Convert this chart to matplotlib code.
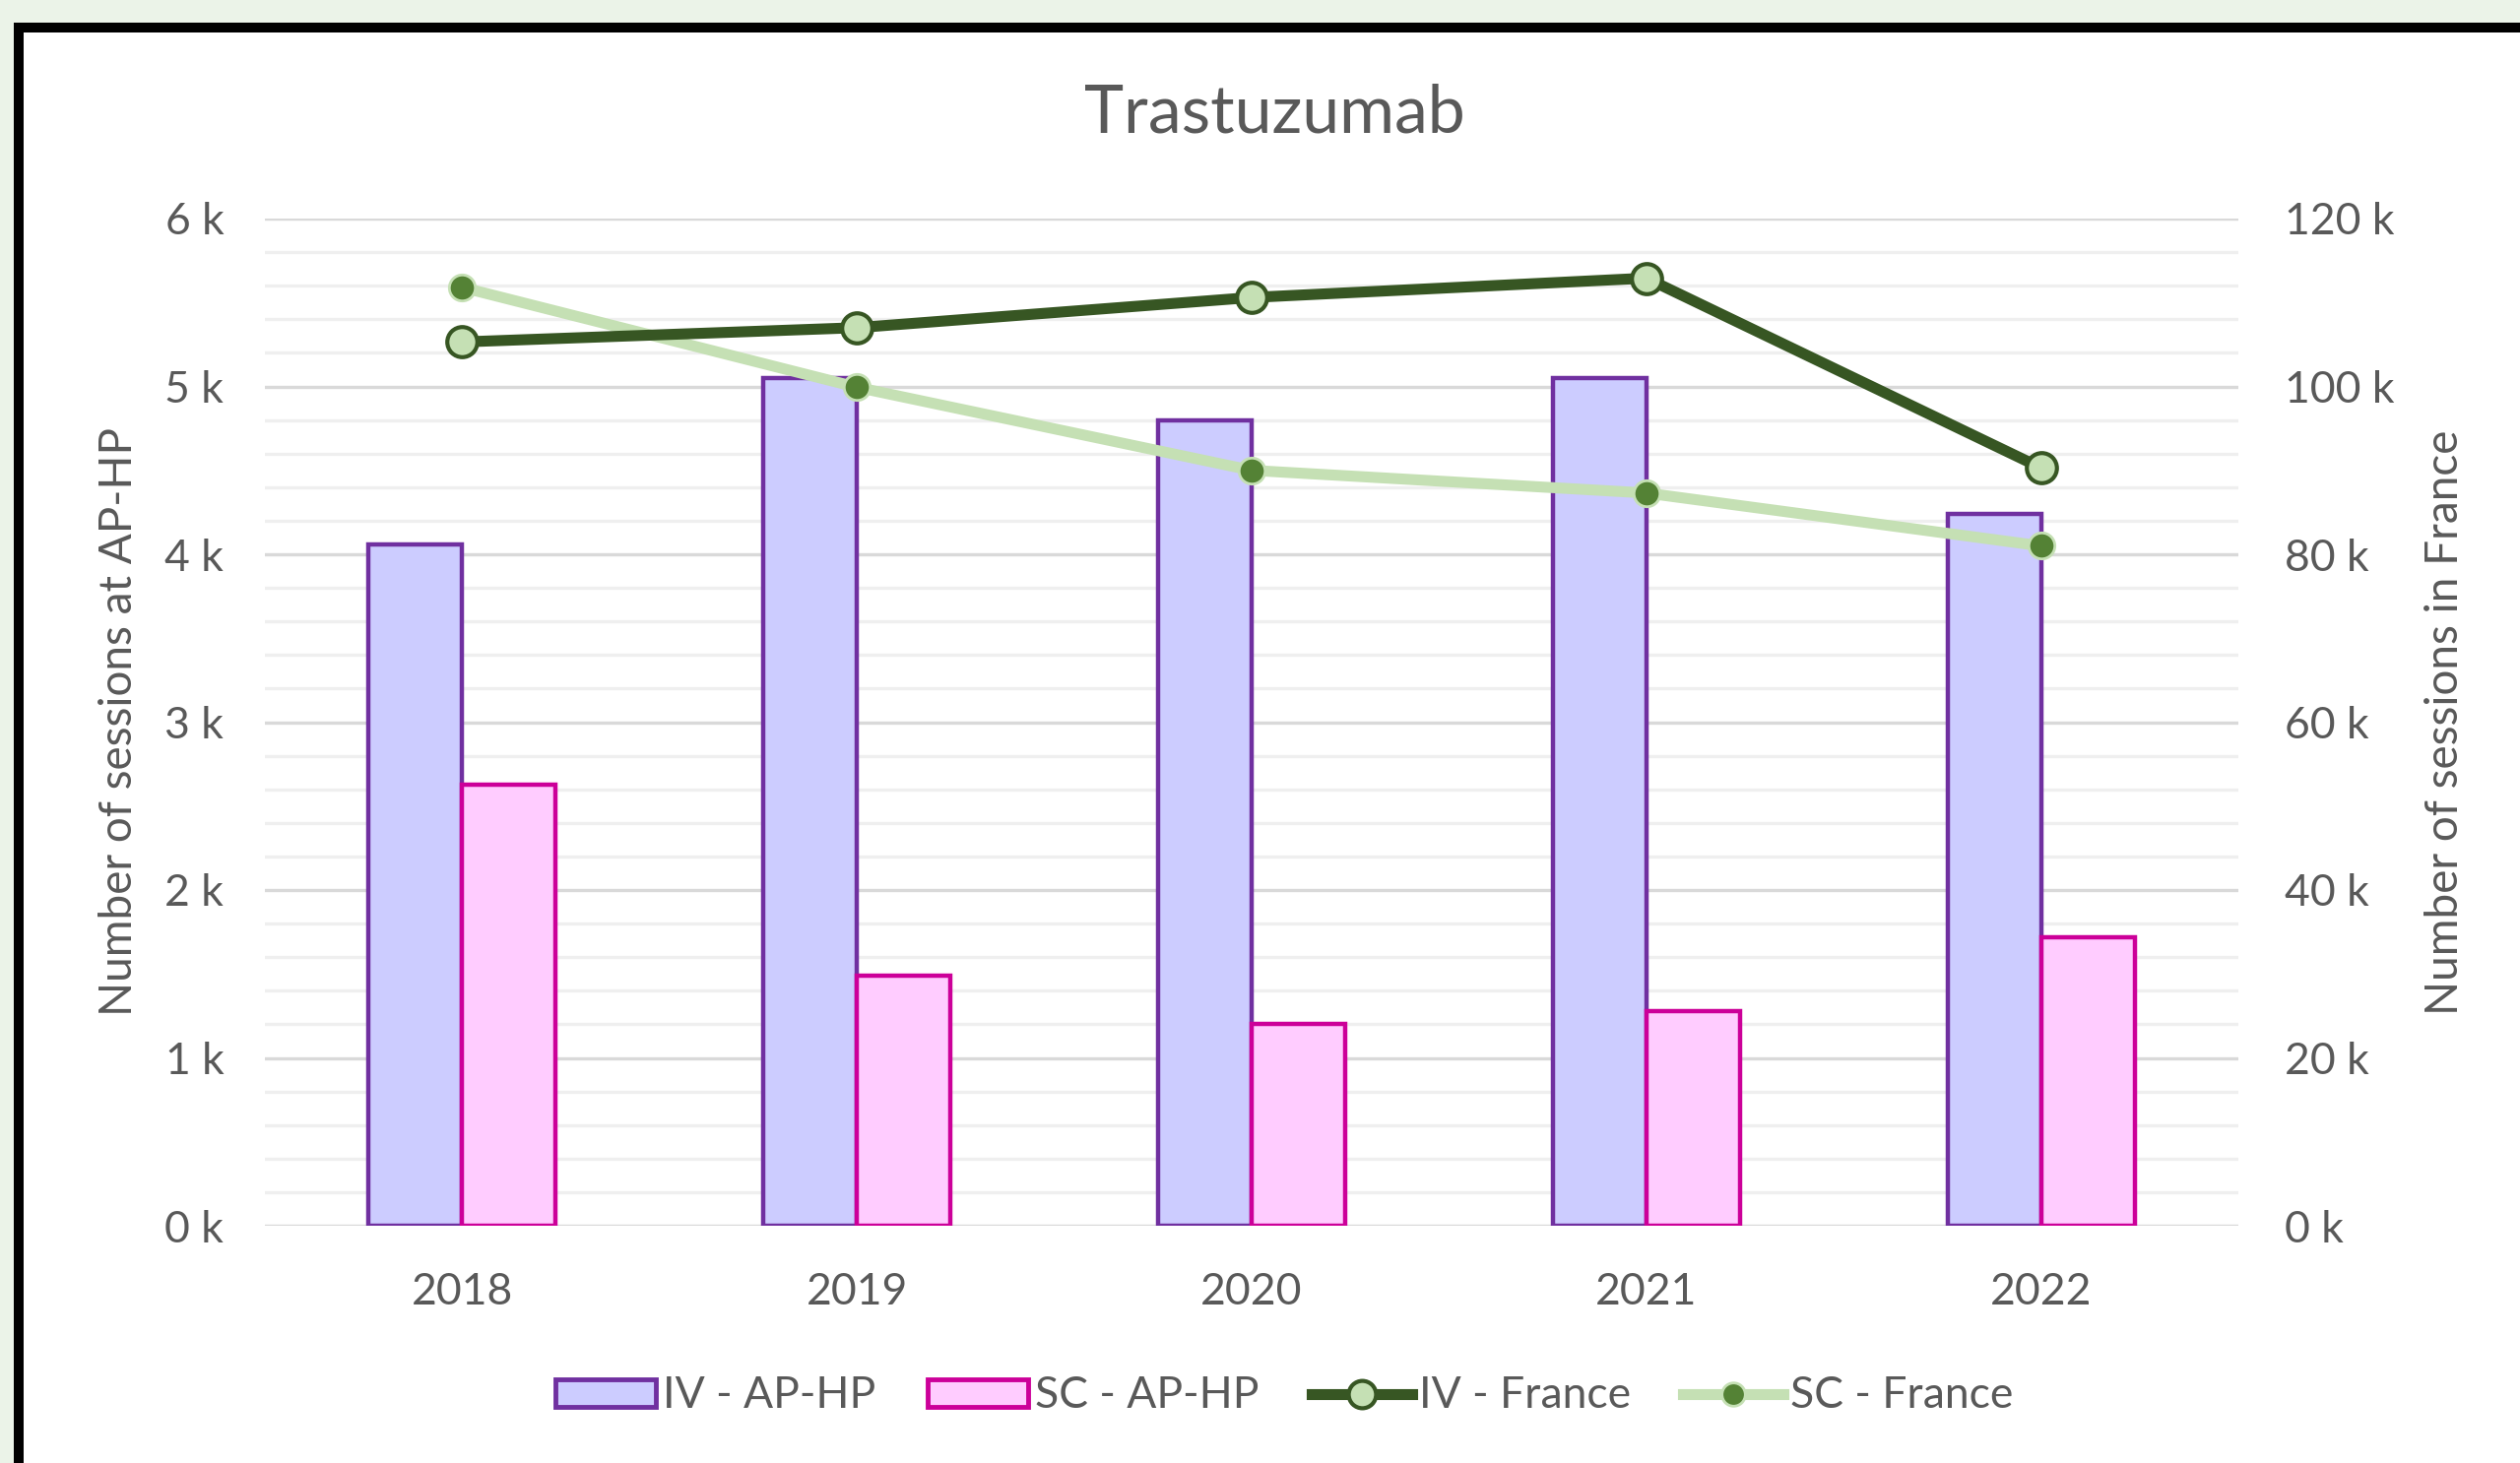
import matplotlib
matplotlib.use("Agg")
import matplotlib.pyplot as plt
import matplotlib.patches as mpatches
from matplotlib.lines import Line2D
from matplotlib.ticker import FuncFormatter, MultipleLocator
import numpy as np

plt.rcParams['font.family'] = ['Lato', 'DejaVu Sans']

years = ["2018", "2019", "2020", "2021", "2022"]
iv_aphp = [4060, 5050, 4800, 5050, 4240]
sc_aphp = [2630, 1490, 1200, 1280, 1720]
iv_france = [105300, 107000, 110600, 112900, 90300]
sc_france = [111800, 99900, 90000, 87300, 81000]

TXT = '#595959'
FS = 32

fig = plt.figure(figsize=(25.59, 14.86), dpi=100, facecolor='#EBF3E8')
# white card with black frame
card = mpatches.Rectangle((19/2559, -0.1), 1.2, 1.1 - 28/1486,
                          transform=fig.transFigure, facecolor='white',
                          edgecolor='black', linewidth=7.2, zorder=-10)
fig.patches.append(card)

ax = fig.add_axes([269/2559, 1 - 1245/1486, (2273 - 269)/2559, (1245 - 222)/1486])
ax.set_facecolor('none')
x = np.arange(len(years))
w = 0.237
ax.bar(x - w/2, iv_aphp, w, color='#CCCCFF', edgecolor='#7030A0', linewidth=3.2, zorder=3)
ax.bar(x + w/2, sc_aphp, w, color='#FFCCFF', edgecolor='#CC0099', linewidth=3.2, zorder=3)
ax.set_xlim(-0.5, 4.5)
ax.set_ylim(0, 6000)
ax.yaxis.set_major_locator(MultipleLocator(1000))
ax.yaxis.set_minor_locator(MultipleLocator(200))
ax.yaxis.set_major_formatter(FuncFormatter(lambda v, p: f"{v/1000:.0f} k"))
ax.grid(True, which='major', axis='y', color='#D9D9D9', linewidth=2.4, zorder=0)
ax.grid(True, which='minor', axis='y', color='#EFEFEF', linewidth=2.4, zorder=0)
ax.set_axisbelow(True)
ax.set_xticks(x)
ax.set_xticklabels(years)
ax.tick_params(axis='both', which='both', length=0, labelsize=FS, labelcolor=TXT)
ax.tick_params(axis='y', pad=30)
ax.tick_params(axis='x', pad=34)
for s in ax.spines.values():
    s.set_visible(False)
ax.set_ylabel("Number of sessions at AP-HP", fontsize=33, color=TXT, labelpad=18)

ax2 = ax.twinx()
ax2.plot(x, iv_france, color='#375623', linewidth=8, marker='o', markersize=22,
         markerfacecolor='#C5E0B4', markeredgecolor='#375623', markeredgewidth=3, zorder=5)
ax2.plot(x, sc_france, color='#C5E0B4', linewidth=8, marker='o', markersize=19,
         markerfacecolor='#548235', markeredgecolor='#C5E0B4', markeredgewidth=2, zorder=4)
ax2.set_ylim(0, 120000)
ax2.yaxis.set_major_locator(MultipleLocator(20000))
ax2.yaxis.set_major_formatter(FuncFormatter(lambda v, p: f"{v/1000:.0f} k"))
ax2.tick_params(axis='y', length=0, labelsize=FS, labelcolor=TXT, pad=34)
for s in ax2.spines.values():
    s.set_visible(False)
ax2.set_ylabel("Number of sessions in France", fontsize=33, color=TXT, labelpad=22)

fig.text(0.506, 0.9225, "Trastuzumab", ha='center', va='center', fontsize=49, color=TXT)

handles = [
    mpatches.Patch(facecolor='#CCCCFF', edgecolor='#7030A0', linewidth=3.5),
    mpatches.Patch(facecolor='#FFCCFF', edgecolor='#CC0099', linewidth=3.5),
    Line2D([0], [0], color='#375623', linewidth=8, marker='o', markersize=20,
           markerfacecolor='#C5E0B4', markeredgecolor='#375623', markeredgewidth=3),
    Line2D([0], [0], color='#C5E0B4', linewidth=8, marker='o', markersize=17,
           markerfacecolor='#548235', markeredgecolor='#C5E0B4', markeredgewidth=2),
]
labels = ["IV - AP-HP", "SC - AP-HP", "IV - France", "SC - France"]
leg = fig.legend(handles, labels, loc='center', bbox_to_anchor=(0.5096, 1 - 1418/1486),
                 ncol=4, frameon=False, fontsize=FS, handlelength=2.3, handleheight=0.6,
                 handletextpad=0.15, columnspacing=1.2, numpoints=1)
for t in leg.get_texts():
    t.set_color(TXT)

fig.savefig("out.png", dpi=100, facecolor=fig.get_facecolor())
